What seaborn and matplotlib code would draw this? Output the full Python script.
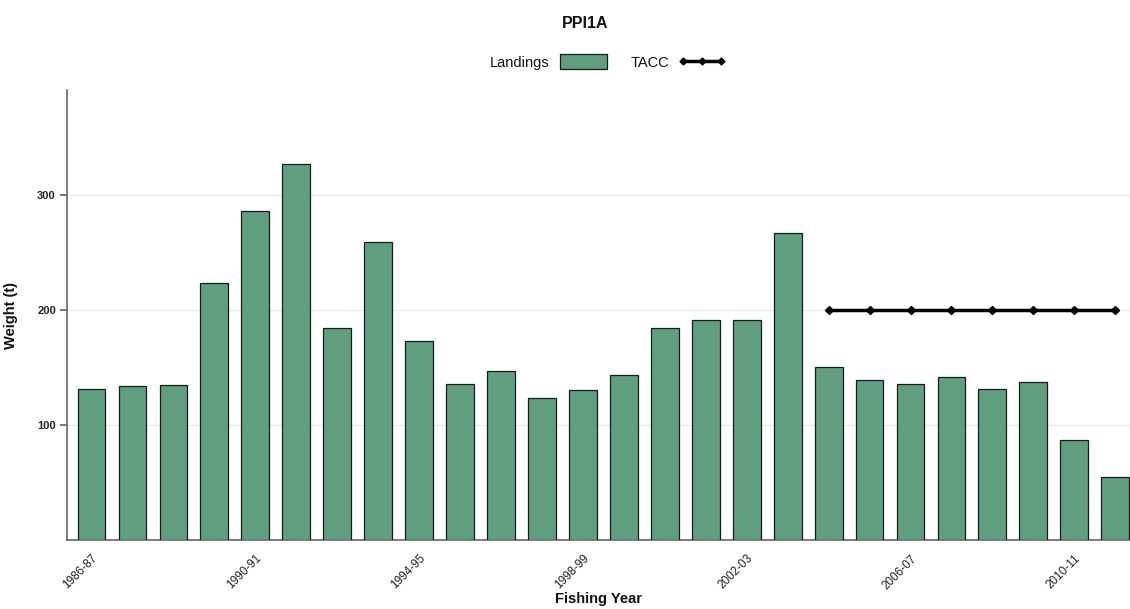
import matplotlib
matplotlib.use("Agg")
import matplotlib.pyplot as plt
import seaborn as sns
import pandas as pd
import numpy as np
from matplotlib.patches import Patch
from matplotlib.lines import Line2D

years = ["1986-87","1987-88","1988-89","1989-90","1990-91","1991-92","1992-93","1993-94",
         "1994-95","1995-96","1996-97","1997-98","1998-99","1999-00","2000-01","2001-02",
         "2002-03","2003-04","2004-05","2005-06","2006-07","2007-08","2008-09","2009-10",
         "2010-11","2011-12"]
landings = [131,134,135,223,286,327,184,259,173,136,147,123,130,143,184,191,
            191,267,150,139,136,142,131,137,87,55]
tacc_years = ["2004-05","2005-06","2006-07","2007-08","2008-09","2009-10","2010-11","2011-12"]
tacc = [200,200,200,200,200,200,200,200]
tick_labels = ["1986-87","1990-91","1994-95","1998-99","2002-03","2006-07","2010-11"]

sns.set_theme(style="white")
plt.rcParams['font.family'] = ['Liberation Sans', 'DejaVu Sans']

df = pd.DataFrame({"year": years, "landings": landings})
fig = plt.figure(figsize=(11.3, 6.09), dpi=100)
ax = fig.add_axes([0.0593, 0.1133, 0.9407, 0.7387])

sns.barplot(data=df, x="year", y="landings", order=years, color="#5F9F80",
            saturation=1, width=0.68, edgecolor="#1a1a1a", linewidth=0.9, ax=ax, zorder=3)

pos = {y: i for i, y in enumerate(years)}
tx = [pos[y] for y in tacc_years]
ax.plot(tx, tacc, color="black", lw=2.5, marker="D", ms=4, zorder=4)

ax.set_xlim(-0.6, 25.36)
ax.set_ylim(0, 391)
ax.set_yticks([100, 200, 300])
ax.set_yticklabels(["100", "200", "300"], fontsize=8, fontweight="bold", color="#222222")
ax.set_xticks([pos[t] for t in tick_labels])
ax.set_xticklabels(tick_labels, rotation=45, ha="right", rotation_mode="anchor",
                   fontsize=8.5, color="#222222")
ax.tick_params(axis="y", length=5, color="#666666", direction="out", left=True, pad=3)
ax.tick_params(axis="x", length=0, bottom=False, pad=9)
ax.grid(axis="y", color="#e8e8e8", lw=0.8, zorder=0)
for s in ["top", "right"]:
    ax.spines[s].set_visible(False)
for s in ["left", "bottom"]:
    ax.spines[s].set_color("#666666")
    ax.spines[s].set_linewidth(1.2)

ax.set_xlabel("Fishing Year", fontsize=10.5, fontweight="bold", labelpad=0, color="#111111")
ax.set_ylabel("Weight (t)", fontsize=10.5, fontweight="bold", labelpad=14, color="#111111")

fig.text(0.518, 0.962, "PPI1A", ha="center", va="center", fontsize=11.5, fontweight="bold",
         color="#111111")

handles = [Patch(facecolor="#5F9F80", edgecolor="#1a1a1a", linewidth=0.9),
           Line2D([0], [0], color="black", lw=2.5, marker="D", ms=3.5)]
leg = fig.legend(handles, ["Landings", "TACC"], loc="center", bbox_to_anchor=(0.538, 0.898),
                 ncol=2, frameon=False, markerfirst=False, fontsize=10.5, numpoints=3,
                 handlelength=3.2, handleheight=1.2, columnspacing=1.6, handletextpad=0.7)
for t in leg.get_texts():
    t.set_color("#111111")

fig.savefig("out.png", dpi=100)
